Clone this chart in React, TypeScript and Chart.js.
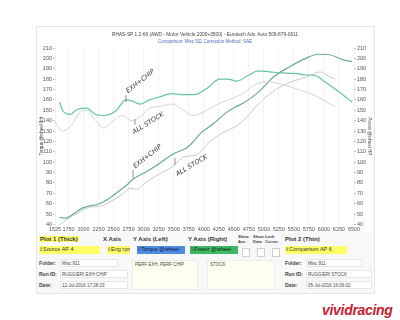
import React, { useEffect, useRef } from "react";
import { Chart, registerables } from "chart.js";
Chart.register(...registerables);

const FONT = '"Liberation Sans", Arial, sans-serif';

const TITLE = "RHAS-SP 1.2-66  (AWD - Motor Vehicle 2000+3500) - Eurotech Adv. Auto 509-879-0611";
const SUBTITLE = "Comparison: Misc 911      Correction Method: SAE";
const Y_LEFT_TITLE = "Torque @wheel lbft";
const Y_RIGHT_TITLE = "Power @wheel HP";

const X_TICKS = [1525, 1750, 2000, 2250, 2500, 2750, 3000, 3250, 3500, 3750, 4000, 4250, 4500, 4750, 5000, 5250, 5500, 5750, 6000, 6250, 6500];
const Y_MIN = 40;
const Y_MAX = 210;
const Y_STEP = 10;

// Plot 1 (Thick) – exhaust + chip
const EXH_TQ_RPM = [1600, 1650, 1775, 1900, 2050, 2200, 2350, 2550, 2700, 2800, 2940, 3100, 3270, 3470, 3650, 3850, 4050, 4270, 4400, 4550, 4750, 4900, 5100, 5300, 5500, 5700, 5880, 6000, 6150, 6270, 6400, 6470];
const EXH_TQ = [158, 150, 146, 151, 152, 146, 145, 150, 160, 159, 156, 160, 163, 166, 165, 165, 171, 180, 180, 178, 184, 188, 187, 186, 185.5, 184, 183, 178, 172, 167, 161, 158];

const EXH_HP_RPM = [1600, 1690, 1830, 1970, 2100, 2220, 2385, 2550, 2720, 2830, 3050, 3270, 3490, 3720, 3830, 3950, 4160, 4380, 4520, 4660, 4900, 5160, 5400, 5700, 5900, 6100, 6320, 6470];
const EXH_HP = [47, 46, 50, 55.5, 58, 59, 63.5, 70.5, 78, 84, 91, 99, 108, 114, 120, 128, 137, 148, 153, 157, 167, 182, 191, 200, 204, 203.5, 198.5, 197];

// Plot 2 (Thin) – all stock
const STOCK_TQ_RPM = [1525, 1636, 1775, 1941, 2052, 2190, 2329, 2495, 2635, 2801, 2940, 3106, 3300, 3467, 3660, 3826, 4049, 4270, 4492, 4650, 4825, 5047, 5324, 5601, 5823, 6046, 6184];
const STOCK_TQ = [139, 130, 134, 148, 150, 141, 133, 140, 145, 140, 144, 152, 154, 156, 150, 145, 150, 157, 162, 166, 174, 177.5, 174.5, 169.5, 165, 158, 153.5];

const STOCK_HP_RPM = [1560, 1610, 1720, 1890, 2100, 2300, 2440, 2635, 2770, 2880, 3050, 3270, 3490, 3580, 3660, 3880, 4050, 4270, 4450, 4600, 4800, 5000, 5200, 5435, 5713, 5935, 6073, 6184];
const STOCK_HP = [39, 40, 45, 50.5, 56.5, 58, 62, 68.5, 75, 74, 81, 89, 96, 101, 105, 107, 117, 127, 132, 137, 149, 161, 170, 177, 182, 187, 183, 180];

// Handwritten notes on the sheet
const NOTE_TEXT = ["EXH+CHIP", "ALL STOCK", "EXH+CHIP", "ALL STOCK"];
const NOTE_RPM = [2740, 2840, 2860, 3560];
const NOTE_VAL = [166.5, 127, 94, 86.5];
const NOTE_ANGLE = [38, 32, 38, 31];
const NOTE_TICK_RPM = [2706, 2856, 2823, 3521];
const NOTE_TICK_FROM = [158, 141.5, 85, 104];
const NOTE_TICK_TO = [164.5, 136, 92.5, 97.5];

const TEAL = "#62c4a5";
const TEAL_DARK = "#6aa997";
const GRAY_TQ = "#cfcfcf";
const GRAY_HP = "#bcc6c2";

const pts = (xs: number[], ys: number[]) => xs.map((x, i) => ({ x, y: ys[i] }));

const notesPlugin = {
  id: "handNotes",
  afterDatasetsDraw(chart: any) {
    const { ctx, scales } = chart;
    const sx = scales.x;
    const sy = scales.yL;
    ctx.save();
    ctx.strokeStyle = "#444";
    ctx.fillStyle = "#3a3a3a";
    ctx.lineWidth = 0.6;
    ctx.font = 'italic 6.5px "DejaVu Sans", sans-serif';
    ctx.textBaseline = "alphabetic";
    for (let i = 0; i < NOTE_TEXT.length; i++) {
      const tx = sx.getPixelForValue(NOTE_TICK_RPM[i]);
      ctx.beginPath();
      ctx.moveTo(tx, sy.getPixelForValue(NOTE_TICK_FROM[i]));
      ctx.lineTo(tx, sy.getPixelForValue(NOTE_TICK_TO[i]));
      ctx.stroke();
      const px = sx.getPixelForValue(NOTE_RPM[i]);
      const py = sy.getPixelForValue(NOTE_VAL[i]);
      ctx.save();
      ctx.translate(px, py);
      ctx.rotate((-NOTE_ANGLE[i] * Math.PI) / 180);
      ctx.fillText(NOTE_TEXT[i], 0, 0);
      ctx.restore();
    }
    ctx.restore();
  },
};

function DynoChart() {
  const ref = useRef<HTMLCanvasElement>(null);
  useEffect(() => {
    if (!ref.current) return;
    const tickFont = { size: 5.5, family: FONT };
    const chart = new Chart(ref.current, {
      type: "line",
      data: {
        datasets: [
          { label: "Stock Torque", data: pts(STOCK_TQ_RPM, STOCK_TQ), yAxisID: "yL", borderColor: GRAY_TQ, borderWidth: 0.9, pointRadius: 0, cubicInterpolationMode: "monotone" },
          { label: "Stock Power", data: pts(STOCK_HP_RPM, STOCK_HP), yAxisID: "yR", borderColor: GRAY_HP, borderWidth: 0.9, pointRadius: 0, cubicInterpolationMode: "monotone" },
          { label: "Exh+Chip Torque", data: pts(EXH_TQ_RPM, EXH_TQ), yAxisID: "yL", borderColor: TEAL, borderWidth: 1.2, pointRadius: 0, cubicInterpolationMode: "monotone" },
          { label: "Exh+Chip Power", data: pts(EXH_HP_RPM, EXH_HP), yAxisID: "yR", borderColor: TEAL_DARK, borderWidth: 1.2, pointRadius: 0, cubicInterpolationMode: "monotone" },
        ],
      },
      options: {
        animation: false,
        responsive: false,
        maintainAspectRatio: false,
        layout: { padding: { top: 21, left: 0, right: 0, bottom: 0 } },
        plugins: { legend: { display: false }, tooltip: { enabled: false }, title: { display: false } },
        scales: {
          x: {
            type: "linear",
            min: X_TICKS[0],
            max: X_TICKS[X_TICKS.length - 1],
            afterBuildTicks: (s: any) => {
              s.ticks = X_TICKS.map((v) => ({ value: v }));
            },
            afterFit: (s: any) => {
              s.height = 7.5;
            },
            grid: { color: "#eeeeee", lineWidth: 0.7, drawTicks: false },
            border: { display: false },
            ticks: { font: tickFont, color: "#555", padding: 2, maxRotation: 0, autoSkip: false, callback: (v: any) => String(v) },
          },
          yL: {
            type: "linear",
            position: "left",
            min: Y_MIN,
            max: Y_MAX,
            afterFit: (s: any) => {
              s.width = 18;
            },
            grid: { drawOnChartArea: false, tickLength: 2, color: "#999", lineWidth: 0.6 },
            border: { display: false },
            ticks: { stepSize: Y_STEP, font: tickFont, color: "#555", padding: 1, autoSkip: false },
            title: { display: true, text: Y_LEFT_TITLE, font: { size: 4.5, family: FONT }, color: "#333", padding: { top: 2, bottom: 0 } },
          },
          yR: {
            type: "linear",
            position: "right",
            min: Y_MIN,
            max: Y_MAX,
            afterFit: (s: any) => {
              s.width = 19;
            },
            grid: { drawOnChartArea: false, tickLength: 2, color: "#999", lineWidth: 0.6 },
            border: { display: false },
            ticks: { stepSize: Y_STEP, font: tickFont, color: "#555", padding: 1, autoSkip: false },
            title: { display: true, text: Y_RIGHT_TITLE, font: { size: 4.5, family: FONT }, color: "#333", padding: { top: 1, bottom: 0 } },
          },
        },
      },
      plugins: [notesPlugin],
    } as any);
    return () => chart.destroy();
  }, []);
  return <canvas ref={ref} width={336} height={205} style={{ width: 336, height: 205, display: "block" }} />;
}

const abs = (x: number, y: number, extra: React.CSSProperties = {}): React.CSSProperties => ({
  position: "absolute",
  left: x,
  top: y,
  whiteSpace: "nowrap",
  lineHeight: 1,
  ...extra,
});

const bold6: React.CSSProperties = { fontSize: 6, fontWeight: "bold", color: "#333" };
const bold5: React.CSSProperties = { fontSize: 5, fontWeight: "bold", color: "#444" };

function Selector({ x, w, bg, color, text }: { x: number; w: number; bg: string; color: string; text: string }) {
  return (
    <div style={abs(x, 246, { width: w, height: 8, background: bg, color, fontSize: 5.5, overflow: "hidden", paddingTop: 1, boxSizing: "border-box" })}>
      <span style={{ fontSize: 4.5, color: "#555" }}>⇕</span>
      {text}
    </div>
  );
}

function Field({ x, y, w, text }: { x: number; y: number; w: number; text: string }) {
  return (
    <div style={abs(x, y, { width: w, height: 8, background: "#fff", border: "1px solid #e6e6e6", boxSizing: "border-box", fontSize: 4.5, color: "#444", paddingLeft: 1, paddingTop: 1.5, overflow: "hidden" })}>
      {text}
    </div>
  );
}

export default function App() {
  return (
    <div style={{ position: "absolute", left: 0, top: 0, width: 400, height: 320, background: "#fff", fontFamily: FONT, overflow: "hidden" }}>
      <div style={abs(36, 26, { width: 337, height: 266, background: "#f8f8f8", border: "1px solid #e6e6e6" })} />
      <div style={abs(37, 27, { width: 336, height: 205, background: "#fff" })}>
        <DynoChart />
      </div>
      <div style={abs(37, 32.5, { width: 336, textAlign: "center", fontSize: 4.8, color: "#444" })}>{TITLE}</div>
      <div style={abs(37, 39.5, { width: 336, textAlign: "center", fontSize: 4.5, color: "#4a6cc4" })}>{SUBTITLE}</div>

      <div style={abs(39, 236, { ...bold6, background: "#ffff70", padding: "0 1px" })}>Plot 1 (Thick)</div>
      <div style={abs(103, 236, bold6)}>X Axis</div>
      <div style={abs(133, 236, bold6)}>Y Axis (Left)</div>
      <div style={abs(188, 236, bold6)}>Y Axis (Right)</div>
      <div style={abs(238, 235, { fontSize: 4, fontWeight: "bold", color: "#444", lineHeight: 1.15 })}>Show<br />Ave.</div>
      <div style={abs(253, 235, { fontSize: 4, fontWeight: "bold", color: "#444", lineHeight: 1.15 })}>Show<br />Data</div>
      <div style={abs(265, 235, { fontSize: 4, fontWeight: "bold", color: "#444", lineHeight: 1.15 })}>Lock<br />Cursor</div>
      <div style={abs(285, 236, bold6)}>Plot 2 (Thin)</div>

      <Selector x={39} w={61} bg="#ffff66" color="#333" text="Source AP 4" />
      <Selector x={107} w={23} bg="#ffff66" color="#333" text="Eng rpm" />
      <Selector x={137} w={48} bg="#4f8be0" color="#0d1d45" text="Torque @wheel" />
      <Selector x={190} w={48} bg="#3fb865" color="#0b2a12" text="Power @wheel" />
      <Selector x={285} w={62} bg="#ffff66" color="#333" text="Comparison AP 6" />

      <div style={abs(242, 248, { width: 8, height: 9, background: "#fff", border: "1px solid #cfcfcf", boxSizing: "border-box" })} />
      <div style={abs(257, 248, { width: 8, height: 9, background: "#fff", border: "1px solid #cfcfcf", boxSizing: "border-box" })} />
      <div style={abs(272, 248, { width: 8, height: 9, background: "#fff", border: "1px solid #cfcfcf", boxSizing: "border-box" })} />

      <div style={abs(39, 261, bold5)}>Folder:</div>
      <div style={abs(39, 272, bold5)}>Run ID:</div>
      <div style={abs(39, 283, bold5)}>Date:</div>
      <Field x={60} y={259} w={58} text="Misc 911" />
      <Field x={60} y={270} w={68} text="RUGGIERI EXH CHIP" />
      <Field x={60} y={281} w={68} text="12-Jul-2016   17:28:23" />

      <div style={abs(132, 260, { width: 66, height: 30, background: "#fffff0", border: "1px solid #ececec", boxSizing: "border-box", fontSize: 4.5, color: "#444", padding: 2 })}>PERF EXH, PERF CHIP</div>
      <div style={abs(207, 260, { width: 68, height: 30, background: "#fffff0", border: "1px solid #ececec", boxSizing: "border-box", fontSize: 4.5, color: "#444", padding: 2 })}>STOCK</div>

      <div style={abs(285, 261, bold5)}>Folder:</div>
      <div style={abs(285, 272, bold5)}>Run ID:</div>
      <div style={abs(285, 283, bold5)}>Date:</div>
      <Field x={306} y={259} w={56} text="Misc 911" />
      <Field x={306} y={270} w={66} text="RUGGIERI STOCK" />
      <Field x={306} y={281} w={66} text="05-Jul-2016   16:06:02" />

      <div style={abs(322, 303, { fontSize: 14, fontWeight: "bold", fontStyle: "italic", color: "#c5202e", letterSpacing: -0.3 })}>vividracing</div>
    </div>
  );
}
